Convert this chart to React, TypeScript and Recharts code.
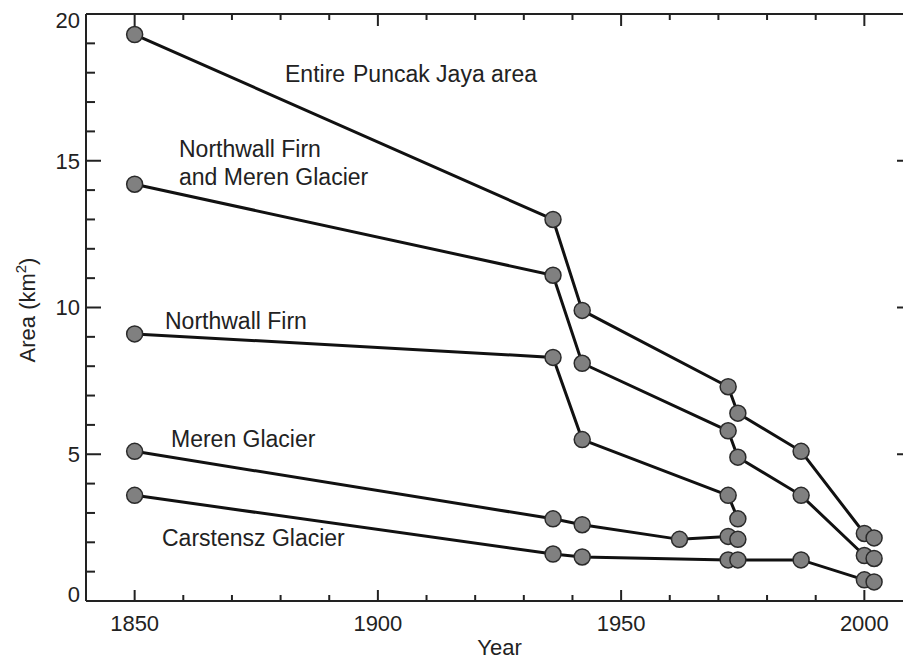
import React from 'react'
import { LineChart, Line, XAxis, YAxis, Label } from 'recharts'

// Puncak Jaya glacier areas (km2) by survey year
const entireYears = [1850, 1936, 1942, 1972, 1974, 1987, 2000, 2002]
const entireArea = [19.3, 13.0, 9.9, 7.3, 6.4, 5.1, 2.3, 2.15]

const nwMerenYears = [1850, 1936, 1942, 1972, 1974, 1987, 2000, 2002]
const nwMerenArea = [14.2, 11.1, 8.1, 5.8, 4.9, 3.6, 1.55, 1.45]

const northwallYears = [1850, 1936, 1942, 1972, 1974]
const northwallArea = [9.1, 8.3, 5.5, 3.6, 2.8]

const merenYears = [1850, 1936, 1942, 1962, 1972, 1974]
const merenArea = [5.1, 2.8, 2.6, 2.1, 2.2, 2.1]

const carstenszYears = [1850, 1936, 1942, 1972, 1974, 1987, 2000, 2002]
const carstenszArea = [3.6, 1.6, 1.5, 1.4, 1.4, 1.4, 0.72, 0.65]

const xTicks = [1850, 1860, 1870, 1880, 1890, 1900, 1910, 1920, 1930, 1940, 1950, 1960, 1970, 1980, 1990, 2000, 2010]
const yTicks = [0, 1, 2, 3, 4, 5, 6, 7, 8, 9, 10, 11, 12, 13, 14, 15, 16, 17, 18, 19, 20]

const toPoints = (years: number[], area: number[]) => years.map((year, i) => ({ year, area: area[i] }))

const series = [
  toPoints(entireYears, entireArea),
  toPoints(nwMerenYears, nwMerenArea),
  toPoints(northwallYears, northwallArea),
  toPoints(merenYears, merenArea),
  toPoints(carstenszYears, carstenszArea),
]

const FONT = 'Liberation Sans, Arial, Helvetica, sans-serif'
const INK = '#222'

const LeftTick = (p: any) => {
  const v = p.payload.value
  const major = v % 5 === 0
  const shift = v === 20 ? 6 : v === 0 ? -7 : 0
  return (
    <g>
      <line x1={p.x} x2={p.x + (major ? 15 : 9)} y1={p.y} y2={p.y} stroke={INK} strokeWidth={2} />
      {major && (
        <text x={p.x - 6} y={p.y + shift} dy="0.36em" textAnchor="end" fontSize={22} fontFamily={FONT} fill={INK}>
          {v}
        </text>
      )}
    </g>
  )
}

const RightTick = (p: any) => {
  const major = p.payload.value % 5 === 0
  return <line x1={p.x} x2={p.x - (major ? 16 : 9)} y1={p.y} y2={p.y} stroke={INK} strokeWidth={2} />
}

const BottomTick = (p: any) => {
  const v = p.payload.value
  const major = v % 50 === 0
  return (
    <g>
      <line x1={p.x} x2={p.x} y1={p.y} y2={p.y - (major ? 11 : 6)} stroke={INK} strokeWidth={2} />
      {major && v < 2010 && (
        <text x={p.x} y={p.y + 30} textAnchor="middle" fontSize={22} fontFamily={FONT} fill={INK}>
          {v}
        </text>
      )}
    </g>
  )
}

const TopTick = (p: any) => {
  const major = p.payload.value % 50 === 0
  return <line x1={p.x} x2={p.x} y1={p.y} y2={p.y + (major ? 12 : 6)} stroke={INK} strokeWidth={2} />
}

const notes = [
  { text: 'Entire', x: 285, y: 82 },
  { text: 'Puncak Jaya area', x: 353, y: 82 },
  { text: 'Northwall Firn', x: 179, y: 157 },
  { text: 'and Meren Glacier', x: 179, y: 185 },
  { text: 'Northwall Firn', x: 165, y: 329 },
  { text: 'Meren Glacier', x: 171, y: 447 },
  { text: 'Carstensz Glacier', x: 162, y: 546 },
]

const App: React.FC = () => {
  return (
    <div style={{ position: 'absolute', left: 0, top: 0, width: 903, height: 659, overflow: 'hidden', background: '#fff' }}>
      <LineChart width={930} height={659} margin={{ top: 0, right: 0, bottom: 0, left: 0 }}>
        <XAxis
          xAxisId="bottom"
          dataKey="year"
          type="number"
          domain={[1840, 2010]}
          ticks={xTicks}
          interval={0}
          allowDuplicatedCategory={false}
          height={58}
          tickSize={0}
          tickMargin={0}
          tickLine={false}
          axisLine={{ stroke: INK, strokeWidth: 2 }}
          tick={BottomTick}
        >
          <Label
            content={({ viewBox }: any) => (
              <text x={viewBox.x + viewBox.width / 2} y={viewBox.y + 54} textAnchor="middle" fontSize={22} fontFamily={FONT} fill={INK}>
                Year
              </text>
            )}
          />
        </XAxis>
        <XAxis
          xAxisId="top"
          orientation="top"
          dataKey="year"
          type="number"
          domain={[1840, 2010]}
          ticks={xTicks}
          interval={0}
          allowDuplicatedCategory={false}
          height={14}
          tickSize={0}
          tickMargin={0}
          tickLine={false}
          axisLine={{ stroke: INK, strokeWidth: 2 }}
          tick={TopTick}
        />
        <YAxis
          yAxisId="left"
          type="number"
          domain={[0, 20]}
          ticks={yTicks}
          interval={0}
          width={86}
          tickSize={0}
          tickMargin={0}
          tickLine={false}
          axisLine={{ stroke: INK, strokeWidth: 2 }}
          tick={LeftTick}
        >
          <Label
            content={({ viewBox }: any) => {
              const cx = viewBox.x + 35
              const cy = viewBox.y + 296
              return (
                <text transform={`translate(${cx},${cy}) rotate(-90)`} textAnchor="middle" fontSize={22} fontFamily={FONT} fill={INK}>
                  Area (km
                  <tspan fontSize={15} dy={-9}>2</tspan>
                  <tspan dy={9}>)</tspan>
                </text>
              )
            }}
          />
        </YAxis>
        <YAxis
          yAxisId="right"
          orientation="right"
          type="number"
          domain={[0, 20]}
          ticks={yTicks}
          interval={0}
          width={17}
          tickSize={0}
          tickMargin={0}
          tickLine={false}
          axisLine={{ stroke: INK, strokeWidth: 2 }}
          tick={RightTick}
        />
        {series.map((pts, i) => (
          <Line
            key={i}
            data={pts}
            xAxisId="bottom"
            yAxisId="left"
            dataKey="area"
            type="linear"
            stroke="#111"
            strokeWidth={3}
            dot={{ r: 8, fill: '#808080', stroke: '#2a2a2a', strokeWidth: 1.5 }}
            isAnimationActive={false}
          />
        ))}
        {series.map((pts, i) => (
          <Line
            key={'ghost' + i}
            data={pts}
            xAxisId="top"
            yAxisId="right"
            dataKey="area"
            stroke="none"
            dot={false}
            isAnimationActive={false}
          />
        ))}
      </LineChart>
      <svg width={903} height={659} style={{ position: 'absolute', left: 0, top: 0, pointerEvents: 'none' }}>
        {notes.map((n, i) => (
          <text key={i} x={n.x} y={n.y} fontSize={23} fontFamily={FONT} fill={INK}>
            {n.text}
          </text>
        ))}
      </svg>
    </div>
  )
}

export default App
